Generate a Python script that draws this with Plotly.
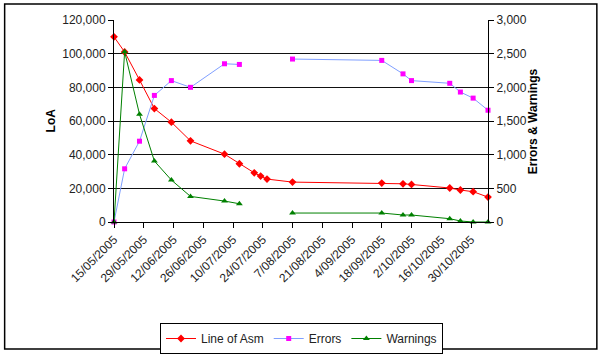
import plotly.graph_objects as go

dates = ["2005-05-15", "2005-05-20", "2005-05-27", "2005-06-03", "2005-06-11",
         "2005-06-20", "2005-07-06", "2005-07-13", "2005-07-20", "2005-07-23",
         "2005-07-26", "2005-08-07", "2005-09-18", "2005-09-28", "2005-10-02",
         "2005-10-20", "2005-10-25", "2005-10-31", "2005-11-07"]
loa = [110000, 101000, 84400, 67400, 59300, 48200, 40300, 34600, 29200, 27300,
       25500, 23700, 23100, 22700, 22300, 20200, 19000, 18000, 14800]
errors = [0, 790, 1200, 1880, 2100, 2000, 2350, 2340, None, None, None,
          2420, 2400, 2200, 2100, 2060, 1930, 1840, 1660]
warnings = [0, 2530, 1600, 905, 623, 380, 311, 271, None, None, None,
            133, 133, 104, 104, 49, 15, 0, 0]

W, H = 600, 354
L, R, T, B = 113.5, 488, 20, 222.3
pw, ph = R - L, B - T


def px(x):
    return (x - L) / pw


def py(y):
    return (B - y) / ph


font = "Liberation Sans, Arial, sans-serif"

fig = go.Figure()
fig.add_trace(go.Scatter(x=dates, y=loa, name="Line of Asm", mode="lines+markers",
                         line=dict(color="#ff0000", width=1),
                         marker=dict(symbol="diamond", size=6, color="#ff0000"),
                         cliponaxis=False))
fig.add_trace(go.Scatter(x=dates, y=errors, name="Errors", mode="lines+markers",
                         yaxis="y2", connectgaps=False,
                         line=dict(color="#7f9fff", width=1),
                         marker=dict(symbol="square", size=5, color="#ff00ff"),
                         cliponaxis=False))
fig.add_trace(go.Scatter(x=dates, y=warnings, name="Warnings", mode="lines+markers",
                         yaxis="y2", connectgaps=False,
                         line=dict(color="#008000", width=1),
                         marker=dict(symbol="triangle-up", size=6, color="#008000"),
                         cliponaxis=False))

fig.update_layout(
    width=W, height=H,
    margin=dict(l=L, r=W - R, t=T, b=H - B, pad=0, autoexpand=False),
    paper_bgcolor="white", plot_bgcolor="white",
    font=dict(family=font, size=12, color="#222"),
    showlegend=True,
    legend=dict(orientation="h", xref="container", yref="container",
                x=301.5 / W, y=1 - 323 / H, xanchor="center", yanchor="top",
                bordercolor="#000", borderwidth=1, font=dict(size=12, color="#222"),
                bgcolor="white", itemwidth=30, tracegroupgap=0),
    xaxis=dict(type="date", range=["2005-05-15", "2005-11-07"],
               tick0="2005-05-15", dtick=14 * 86400000, tickformat="%-d/%m/%Y",
               tickangle=-45, ticks="outside", ticklen=5, tickcolor="#000",
               showline=True, linecolor="#000", linewidth=1, showgrid=False,
               zeroline=False, tickfont=dict(size=12, color="#222"), automargin=False),
    yaxis=dict(range=[0, 120000], dtick=20000, tickformat=",", ticks="outside",
               ticklen=5, tickcolor="#000", showline=True, linecolor="#000",
               linewidth=1, showgrid=True, gridcolor="#111", gridwidth=1,
               zeroline=False, tickfont=dict(size=12, color="#222"), automargin=False),
    yaxis2=dict(range=[0, 3000], dtick=500, tickformat=",", ticks="outside",
                ticklen=5, tickcolor="#000", showline=True, linecolor="#000",
                linewidth=1, showgrid=False, zeroline=False, overlaying="y",
                side="right", tickfont=dict(size=12, color="#222"), automargin=False),
    annotations=[
        dict(text="<b>LoA</b>", x=px(41), y=py(121), xref="paper", yref="paper",
             textangle=-90, showarrow=False, font=dict(size=12, color="#000")),
        dict(text="<b>Errors &amp; Warnings</b>", x=px(541.5), y=py(121), xref="paper",
             yref="paper", textangle=-90, showarrow=False, font=dict(size=12, color="#000")),
    ],
    shapes=[
        dict(type="rect", xref="paper", yref="paper", x0=px(4), x1=px(597),
             y0=py(349.5), y1=py(4), line=dict(color="#000", width=1.5), layer="below"),
    ],
)

fig.write_html("out.html")
